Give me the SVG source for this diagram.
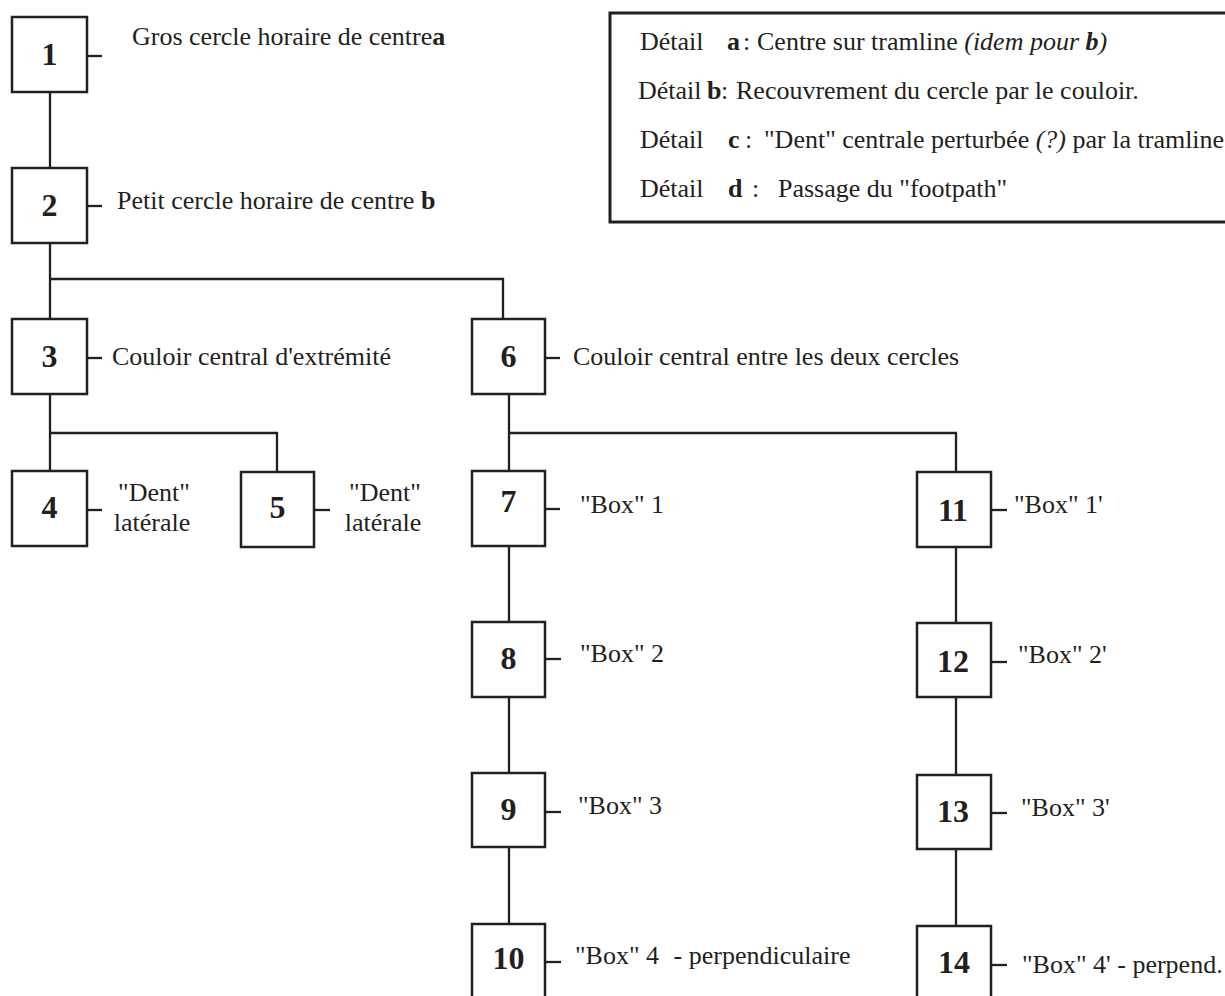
<svg xmlns="http://www.w3.org/2000/svg" width="1225" height="996" viewBox="0 0 1225 996">
<style>
.box{fill:#fff;stroke:#231f20;stroke-width:2.5}
.ln{fill:none;stroke:#231f20;stroke-width:2.3}
.num{font-family:"Liberation Serif","Times New Roman",serif;font-weight:bold;font-size:32px;fill:#231f20;text-anchor:middle}
.lbl{font-family:"Liberation Serif","Times New Roman",serif;font-size:26px;fill:#231f20}
.mid{text-anchor:middle}
.b{font-weight:bold}
.i{font-style:italic}
.legend{fill:none;stroke:#231f20;stroke-width:3}
</style>
<rect width="1225" height="996" fill="#fff"/>
<g id="connectors" class="ln">
<path d="M50 92V168"/>
<path d="M50 243V319"/>
<path d="M50 279H503V319"/>
<path d="M50 394V471"/>
<path d="M50 433H277V472"/>
<path d="M509 394V471"/>
<path d="M509 433H956V472"/>
<path d="M509 546V622"/>
<path d="M509 697V773"/>
<path d="M509 847V924"/>
<path d="M956 547V623"/>
<path d="M956 697V775"/>
<path d="M956 849V926"/>
<path d="M87 56H102"/>
<path d="M87 206H102"/>
<path d="M87 358H102"/>
<path d="M87 510H102"/>
<path d="M314 510H330"/>
<path d="M545 358H560"/>
<path d="M545 509H560"/>
<path d="M545 659H561"/>
<path d="M545 812H561"/>
<path d="M545 962H561"/>
<path d="M991 510H1007"/>
<path d="M991 662H1007"/>
<path d="M991 813H1007"/>
<path d="M991 965H1007"/>
</g>
<g id="legend">
<rect class="legend" x="610" y="13" width="640" height="209"/>
<text class="lbl" y="50"><tspan x="640">Détail</tspan><tspan x="727" class="b">a</tspan><tspan x="743">:</tspan><tspan x="757">Centre sur tramline </tspan><tspan class="i">(idem pour <tspan class="b">b</tspan>)</tspan></text>
<text class="lbl" y="99"><tspan x="638">Détail</tspan><tspan x="707" class="b">b</tspan><tspan x="721">:</tspan><tspan x="736">Recouvrement du cercle par le couloir.</tspan></text>
<text class="lbl" y="148"><tspan x="640">Détail</tspan><tspan x="728" class="b">c</tspan><tspan x="745">:</tspan><tspan x="764">"Dent" centrale perturbée </tspan><tspan class="i">(?)</tspan><tspan> par la tramline</tspan></text>
<text class="lbl" y="197"><tspan x="640">Détail</tspan><tspan x="728" class="b">d</tspan><tspan x="752">:</tspan><tspan x="778">Passage du "footpath"</tspan></text>
</g>
<g id="n1"><rect class="box" x="12" y="17" width="75" height="75"/><text class="num" x="49.5" y="65">1</text><text class="lbl" x="132" y="45">Gros cercle horaire de centre<tspan class="b">a</tspan></text></g>
<g id="n2"><rect class="box" x="12" y="168" width="75" height="75"/><text class="num" x="49.5" y="216">2</text><text class="lbl" x="117" y="209">Petit cercle horaire de centre <tspan class="b">b</tspan></text></g>
<g id="n3"><rect class="box" x="12" y="319" width="75" height="75"/><text class="num" x="49.5" y="367">3</text><text class="lbl" x="112" y="365">Couloir central d'extrémité</text></g>
<g id="n4"><rect class="box" x="12" y="471" width="75" height="75"/><text class="num" x="49.5" y="518">4</text><text class="lbl mid" x="154" y="501">"Dent"</text><text class="lbl mid" x="152" y="531">latérale</text></g>
<g id="n5"><rect class="box" x="241" y="472" width="73" height="75"/><text class="num" x="277.5" y="518">5</text><text class="lbl mid" x="385" y="501">"Dent"</text><text class="lbl mid" x="383" y="531">latérale</text></g>
<g id="n6"><rect class="box" x="472" y="319" width="73" height="75"/><text class="num" x="508.5" y="367">6</text><text class="lbl" x="573" y="365">Couloir central entre les deux cercles</text></g>
<g id="n7"><rect class="box" x="472" y="471" width="73" height="75"/><text class="num" x="508.5" y="512">7</text><text class="lbl" x="580" y="513">"Box" 1</text></g>
<g id="n8"><rect class="box" x="472" y="622" width="73" height="75"/><text class="num" x="508.5" y="669">8</text><text class="lbl" x="580" y="662">"Box" 2</text></g>
<g id="n9"><rect class="box" x="472" y="773" width="73" height="74"/><text class="num" x="508.5" y="820">9</text><text class="lbl" x="578" y="814">"Box" 3</text></g>
<g id="n10"><rect class="box" x="472" y="924" width="73" height="75"/><text class="num" x="508.5" y="969">10</text><text class="lbl" x="575" y="964">"Box" 4 <tspan dx="8">- perpendiculaire</tspan></text></g>
<g id="n11"><rect class="box" x="917" y="472" width="74" height="75"/><text class="num" x="953" y="521">11</text><text class="lbl" x="1014" y="513">"Box" 1'</text></g>
<g id="n12"><rect class="box" x="917" y="623" width="74" height="74"/><text class="num" x="953" y="672">12</text><text class="lbl" x="1018" y="663">"Box" 2'</text></g>
<g id="n13"><rect class="box" x="917" y="775" width="74" height="74"/><text class="num" x="953" y="822">13</text><text class="lbl" x="1021" y="816">"Box" 3'</text></g>
<g id="n14"><rect class="box" x="917" y="926" width="74" height="75"/><text class="num" x="954" y="973">14</text><text class="lbl" x="1022" y="973">"Box" 4' - perpend.</text></g>
</svg>
